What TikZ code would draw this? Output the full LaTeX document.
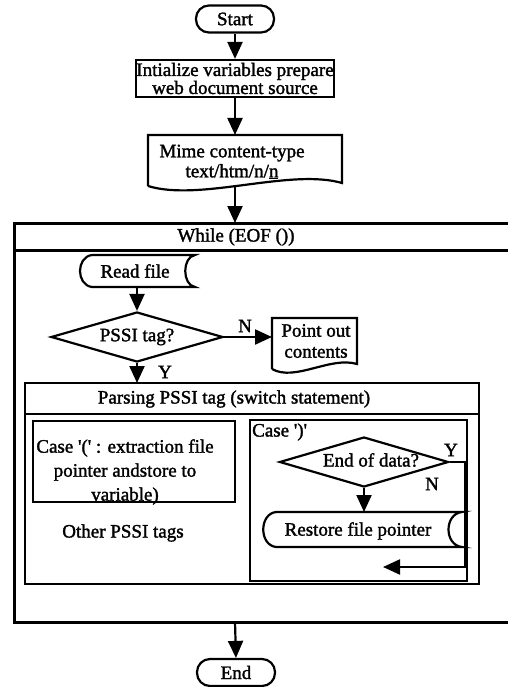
\documentclass[tikz,border=0pt]{standalone}
\usepackage{fontspec}
\setmainfont{Liberation Serif}[FakeBold=1.6]
\usetikzlibrary{arrows.meta,shapes.geometric}
\begin{document}
\begin{tikzpicture}[x=1pt,y=-1pt,
  every node/.style={font=\fontsize{19}{19}\selectfont, inner sep=0pt},
  ln/.style={line width=2.2pt},
  wl/.style={line width=3pt},
  arr/.style={line width=2.2pt,-{Triangle[length=17pt,width=15pt]}},
  term/.style={draw, line width=2.2pt, rounded corners=13pt, minimum width=78pt, minimum height=27pt},
  box/.style={draw, line width=2.2pt, align=center},
  dia/.style={draw, diamond, aspect=3.4, line width=2.2pt}
]
\useasboundingbox (0,0) rectangle (508,687);

% top part
\node[term] (start) at (235,19) {Start};
\node[box, minimum width=198pt, minimum height=37pt, font=\fontsize{19}{18}\selectfont] (init) at (235,78.5) {Intialize variables prepare\\web document source};
\draw[arr] (start.south) -- (init.north);
\coordinate (mimet) at (235,135);
\draw[arr] (init.south) -- (mimet);
\draw[ln] (148,186) -- (148,135) -- (342,135) -- (342,183) .. controls (290,168) and (200,202) .. (148,186);
\node[align=center, font=\fontsize{19}{20}\selectfont] (mime) at (232,162) {Mime content-type\\text/htm/n/\underline{n}};
\coordinate (mimeb) at (235,187);
\coordinate (wtop) at (235,223);
\draw[arr] (mimeb) -- (wtop);

% while box
\draw[wl] (508,223) -- (14,223) -- (14,622) -- (508,622);
\draw[wl] (14,250) -- (508,250);
\node (while) at (236,237) {While (EOF ())};

% read file
\node (read) at (135,271) {Read file};
\draw[ln] (92,255) -- (195,255) .. controls (182,257) and (182,285) .. (195,287) -- (92,287) .. controls (76,285) and (76,257) .. (92,255) -- cycle;
\coordinate (readb) at (137,287);
\node[dia, minimum width=172pt, minimum height=50pt] (d1) at (137,337) {PSSI tag?};
\draw[arr] (readb) -- (d1.north);

% point out
\node[align=center, font=\fontsize{19}{21}\selectfont] (pt) at (316,341) {Point out\\contents};
\draw[ln] (272,369) -- (272,318) -- (357,318) -- (357,364) .. controls (330,356) and (295,382) .. (272,369);
\coordinate (ptw) at (272,337);
\node (nlab) at (245,326) {N};
\draw[arr] (d1.east) -- (ptw);

% parsing box
\coordinate (parsetop) at (137,383);
\node (ylab) at (165,372) {Y};
\draw[arr] (d1.south) -- (parsetop);
\draw[ln] (25,383) rectangle (479,584);
\draw[ln] (25,414) -- (479,414);
\node (parse) at (234,399) {Parsing PSSI tag (switch statement)};

% case (
\draw[ln] (33,421) rectangle (235,502);
\node[align=center, font=\fontsize{19}{24}\selectfont] (caseA) at (125,472) {Case \textquotesingle(\textquotesingle{} : extraction file\\pointer andstore to\\variable)};
\node (other) at (123,533) {Other PSSI tags};

% case )
\draw[ln] (250,420) rectangle (467,581);
\node[anchor=west] (caseB) at (252,432) {Case \textquotesingle)\textquotesingle};
\node[dia, minimum width=169pt, minimum height=50pt] (d2) at (364,462) {};
\node (d2t) at (371,460) {End of data?};
\node (y2) at (451,450) {Y};
\node (n2) at (432,484) {N};
\coordinate (yr) at (465,462);
\coordinate (yb) at (465,567);
\coordinate (ytip) at (383,567);
\draw[arr] (d2.east) -- (yr) -- (yb) -- (ytip);
\node (rest) at (358,531) {Restore file pointer};
\draw[ln] (276,512) -- (462,512) .. controls (444,514) and (444,545) .. (462,547) -- (276,547) .. controls (259,545) and (259,514) .. (276,512) -- cycle;
\coordinate (restt) at (364,512);
\draw[arr] (d2.south) -- (restt);

% end
\coordinate (wbot) at (235,622);
\node[term] (endn) at (236,672.5) {End};
\draw[arr] (wbot) -- (endn.north);
\end{tikzpicture}
\end{document}
